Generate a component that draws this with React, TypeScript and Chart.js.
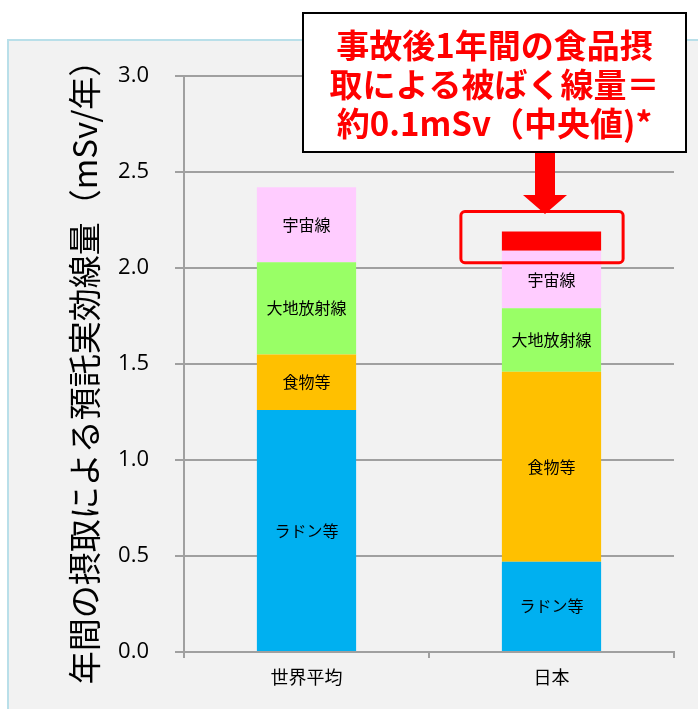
import React, { useEffect, useRef } from 'react';
import { Chart, registerables } from 'chart.js';

Chart.register(...registerables);

const categories = ['世界平均', '日本'];
const radon = [1.26, 0.47];
const food = [0.29, 0.99];
const terrestrial = [0.48, 0.33];
const cosmic = [0.39, 0.3];
const accident = [null, 0.1];
const seriesNames = ['ラドン等', '食物等', '大地放射線', '宇宙線', '事故後1年間の食品摂取'];
const seriesColors = ['#00b0f0', '#ffc000', '#99ff66', '#ffccff', '#ff0000'];
const yTicks = [0, 0.5, 1, 1.5, 2, 2.5, 3];
const yTitle = '年間の摂取による預託実効線量（mSv/年）';
const calloutLines = ['事故後1年間の食品摂', '取による被ばく線量＝', '約0.1mSv（中央値)*'];

const JP = '"Noto Sans CJK JP", "Noto Sans", sans-serif';

const bgPlugin = {
  id: 'panelBg',
  beforeDraw(chart: any) {
    const ctx = chart.ctx;
    ctx.save();
    ctx.fillStyle = '#f2f2f2';
    ctx.fillRect(8, 40, 700, 680);
    ctx.strokeStyle = '#b9dfe9';
    ctx.lineWidth = 2;
    ctx.strokeRect(8, 40, 700, 680);
    ctx.restore();
  },
};

const segLabelPlugin = {
  id: 'segLabels',
  afterDatasetsDraw(chart: any) {
    const ctx = chart.ctx;
    ctx.save();
    ctx.fillStyle = '#000';
    ctx.font = `16px ${JP}`;
    ctx.textAlign = 'center';
    ctx.textBaseline = 'middle';
    for (let d = 0; d < 4; d++) {
      const meta = chart.getDatasetMeta(d);
      meta.data.forEach((el: any, i: number) => {
        const v = chart.data.datasets[d].data[i];
        if (!v) return;
        ctx.fillText(seriesNames[d], el.x, (el.y + el.base) / 2);
      });
    }
    ctx.restore();
  },
};

const calloutPlugin = {
  id: 'callout',
  afterDraw(chart: any) {
    const ctx = chart.ctx;
    const meta = chart.getDatasetMeta(4);
    const el: any = meta.data[1];
    ctx.save();
    if (el) {
      const l = el.x - el.width / 2 - 41;
      const r = el.x + el.width / 2 + 22;
      const t = el.y - 20;
      const b = el.base + 12;
      ctx.strokeStyle = '#ff0000';
      ctx.lineWidth = 3;
      ctx.beginPath();
      ctx.roundRect(l, t, r - l, b - t, 4);
      ctx.stroke();
    }
    ctx.fillStyle = '#ff0000';
    ctx.beginPath();
    ctx.moveTo(535, 152);
    ctx.lineTo(555, 152);
    ctx.lineTo(555, 195);
    ctx.lineTo(567, 195);
    ctx.lineTo(545, 214);
    ctx.lineTo(523, 195);
    ctx.lineTo(535, 195);
    ctx.closePath();
    ctx.fill();
    ctx.fillStyle = '#ffffff';
    ctx.fillRect(303, 13, 383, 139);
    ctx.strokeStyle = '#000';
    ctx.lineWidth = 2;
    ctx.strokeRect(303, 13, 383, 139);
    ctx.fillStyle = '#ff0000';
    ctx.font = `bold 33px ${JP}`;
    ctx.textAlign = 'center';
    ctx.textBaseline = 'middle';
    const ys = [45, 84, 123];
    calloutLines.forEach((s, i) => ctx.fillText(s, 494.5, ys[i]));
    ctx.restore();
  },
};

export default function App() {
  const ref = useRef<HTMLCanvasElement>(null);
  useEffect(() => {
    document.body.style.margin = '0';
    const c = ref.current!;
    const datasetsData = [radon, food, terrestrial, cosmic, accident];
    const chart = new Chart(c, {
      type: 'bar',
      data: {
        labels: categories,
        datasets: datasetsData.map((d, i) => ({
          label: seriesNames[i],
          data: d as any,
          backgroundColor: seriesColors[i],
          borderWidth: 0,
          barPercentage: 0.405,
          categoryPercentage: 1,
        })),
      },
      options: {
        animation: false,
        responsive: false,
        maintainAspectRatio: false,
        layout: { padding: { left: 65, top: 76, right: 24, bottom: 0 } },
        plugins: { legend: { display: false }, tooltip: { enabled: false } },
        scales: {
          x: {
            stacked: true,
            grid: { drawOnChartArea: false, drawTicks: true, tickLength: 6, color: '#a0a0a0', lineWidth: 2 },
            border: { display: true, color: '#a0a0a0', width: 2 },
            ticks: { color: '#000', font: { family: JP, size: 18 }, padding: 8 },
            afterFit: (s: any) => { s.height = 57; },
          },
          y: {
            stacked: true,
            min: 0,
            max: 3,
            afterBuildTicks: (s: any) => { s.ticks = yTicks.map((v) => ({ value: v })); },
            grid: { color: '#a0a0a0', lineWidth: 2, tickLength: 9 },
            border: { display: true, color: '#a0a0a0', width: 2 },
            ticks: {
              color: '#000',
              font: { family: '"Open Sans", sans-serif', size: 22 },
              padding: 26,
              callback: (v: any) => Number(v).toFixed(1),
            },
            title: { display: true, text: yTitle, color: '#000', font: { family: JP, size: 33 }, padding: 0 },
            afterFit: (s: any) => { s.width = 119; },
          },
        },
      },
      plugins: [bgPlugin, segLabelPlugin, calloutPlugin],
    });
    return () => chart.destroy();
  }, []);
  return <canvas ref={ref} width={698} height={709} style={{ display: 'block', width: 698, height: 709 }} />;
}
